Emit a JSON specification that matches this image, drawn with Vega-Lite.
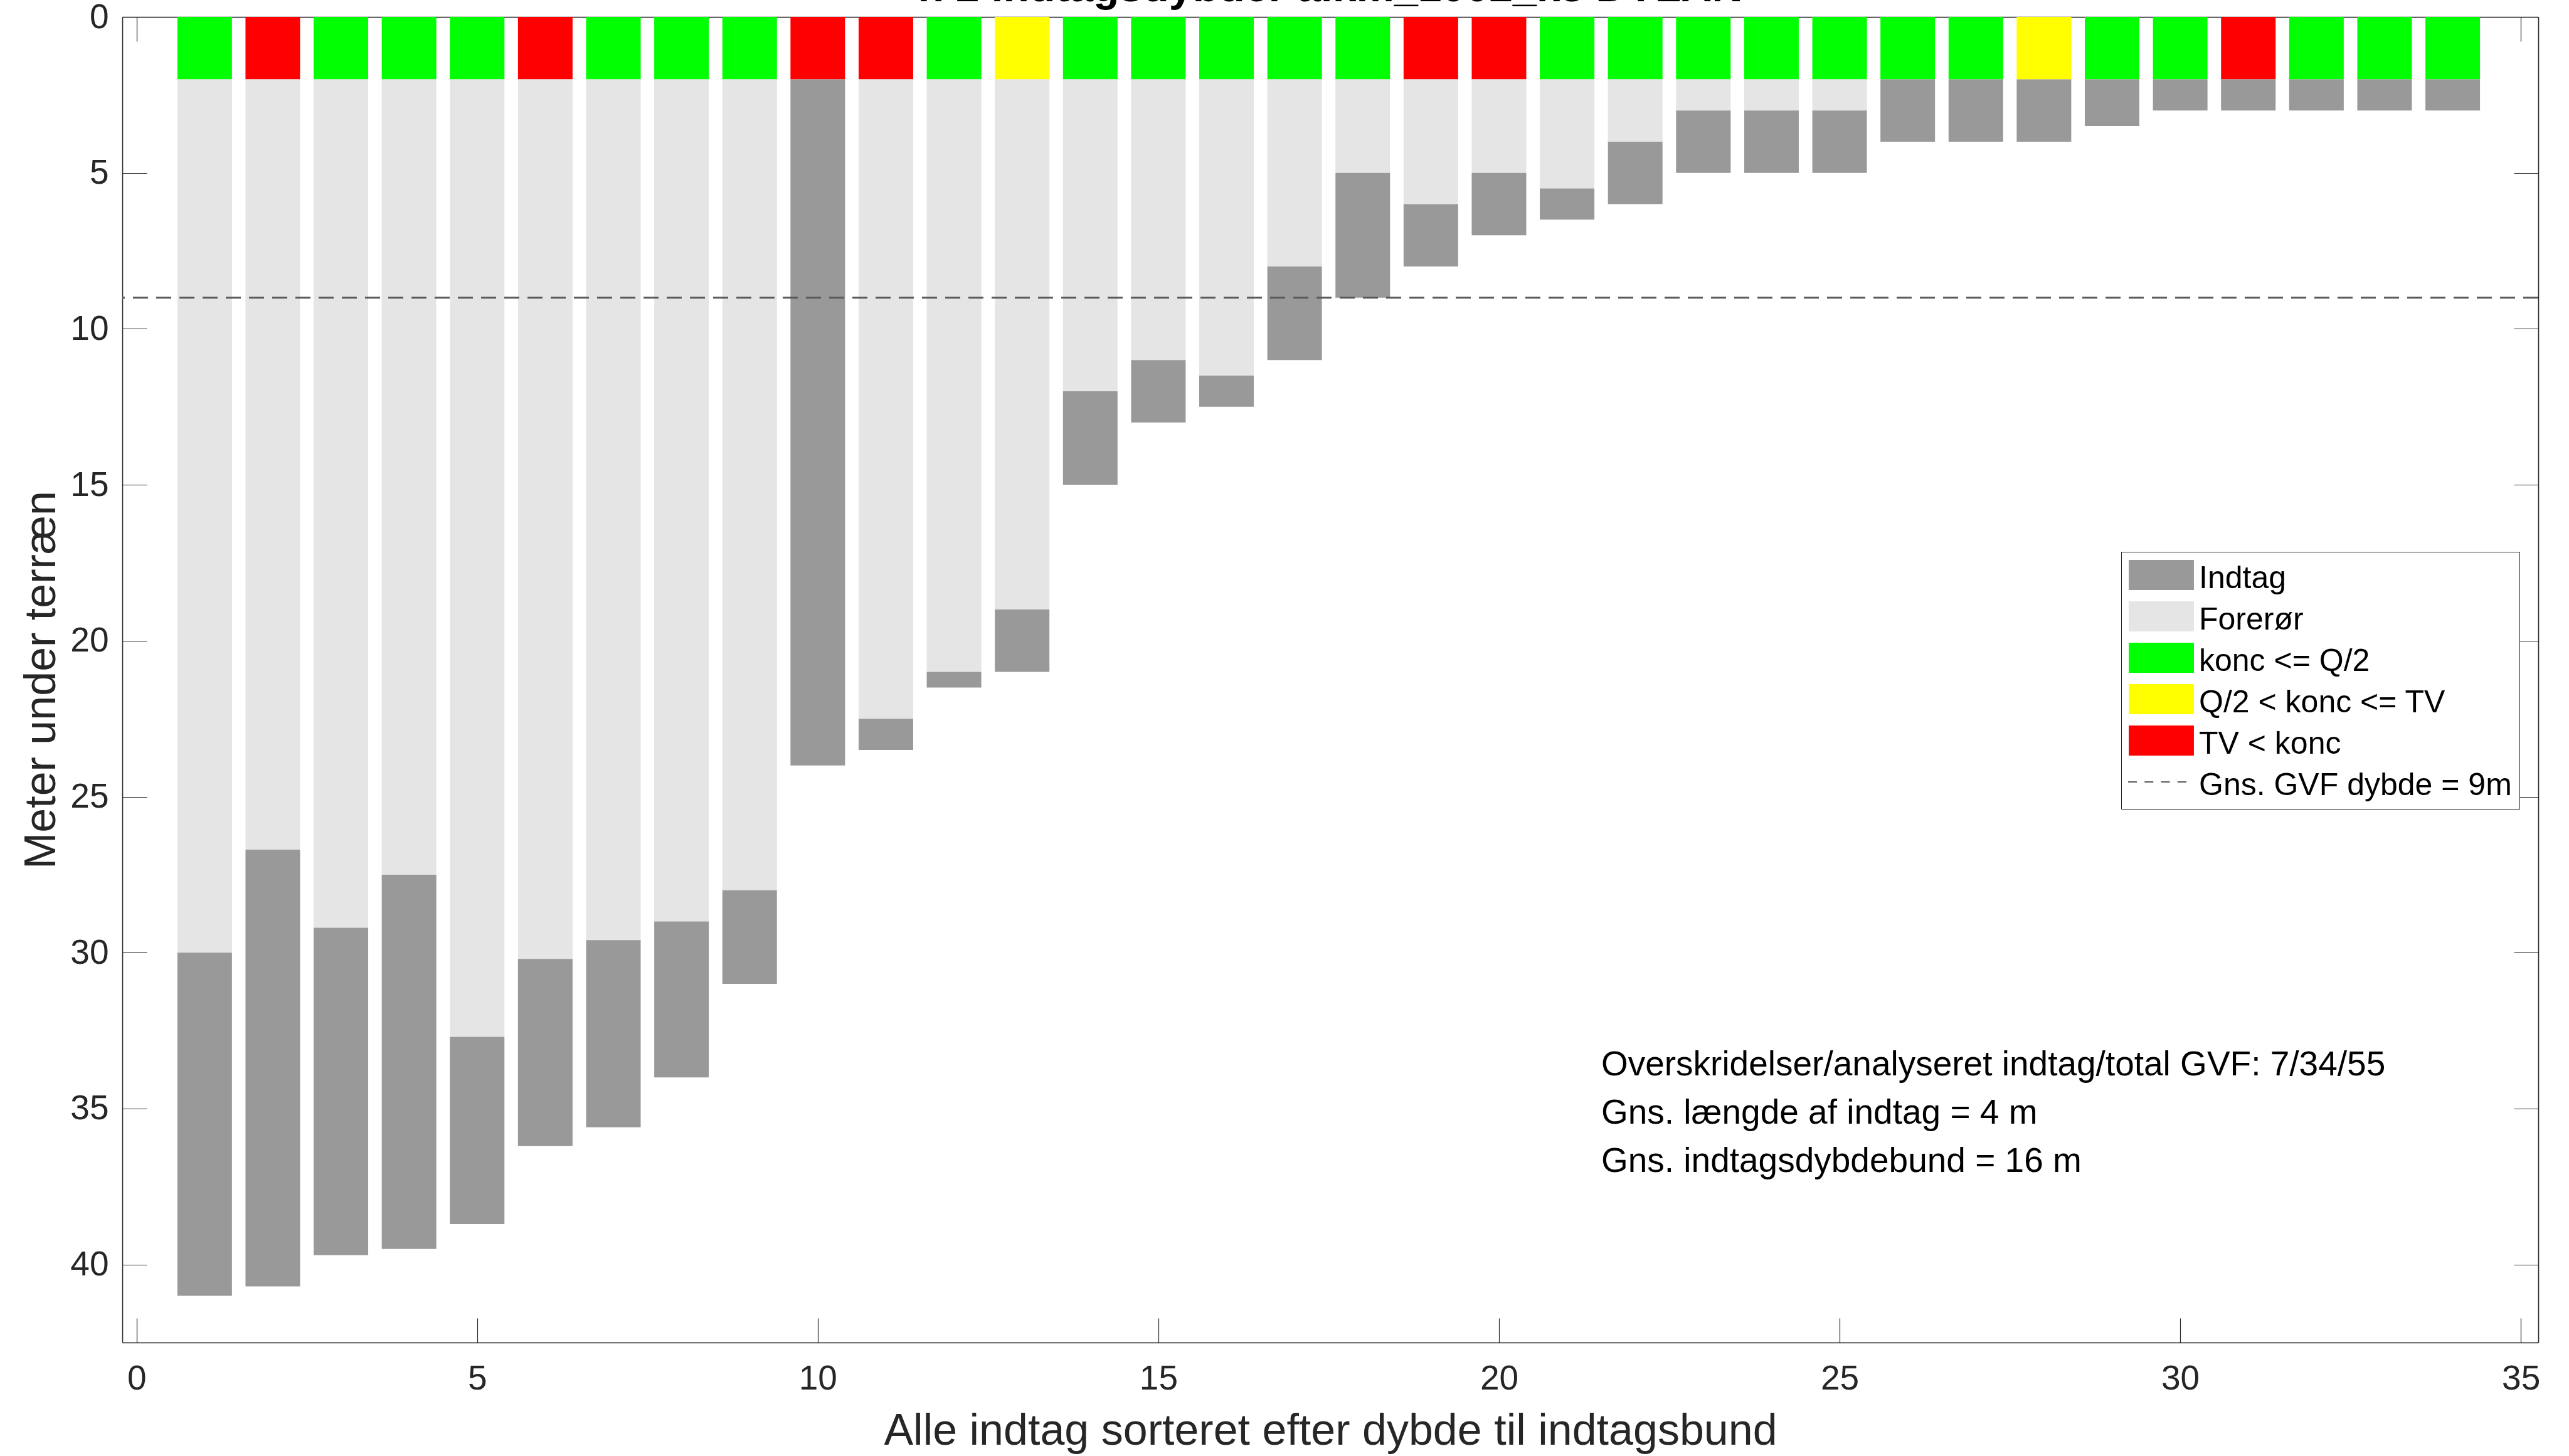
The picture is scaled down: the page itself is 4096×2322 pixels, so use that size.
{
  "$schema": "https://vega.github.io/schema/vega-lite/v6.json",
  "width": 3852,
  "height": 2114,
  "autosize": {"type": "none"},
  "padding": {"left": 195, "top": 27, "right": 49, "bottom": 181},
  "background": "white",
  "config": {"view": {"stroke": null}, "font": "Liberation Sans"},
  "title": {
    "text": "n 2 indtagsdybder alkm_1002_k8 DYLAN",
    "font": "Liberation Sans",
    "fontWeight": "bold",
    "fontSize": 68,
    "color": "#000000",
    "anchor": "middle",
    "frame": "group",
    "baseline": "alphabetic",
    "offset": -70
  },
  "datasets": {
    "segments": [
      {"n": 1, "from": 0, "to": 2, "cat": "konc <= Q/2"}, {"n": 1, "from": 2, "to": 30, "cat": "Forerør"}, {"n": 1, "from": 30, "to": 41, "cat": "Indtag"},
      {"n": 2, "from": 0, "to": 2, "cat": "TV < konc"}, {"n": 2, "from": 2, "to": 26.7, "cat": "Forerør"}, {"n": 2, "from": 26.7, "to": 40.7, "cat": "Indtag"},
      {"n": 3, "from": 0, "to": 2, "cat": "konc <= Q/2"}, {"n": 3, "from": 2, "to": 29.2, "cat": "Forerør"}, {"n": 3, "from": 29.2, "to": 39.7, "cat": "Indtag"},
      {"n": 4, "from": 0, "to": 2, "cat": "konc <= Q/2"}, {"n": 4, "from": 2, "to": 27.5, "cat": "Forerør"}, {"n": 4, "from": 27.5, "to": 39.5, "cat": "Indtag"},
      {"n": 5, "from": 0, "to": 2, "cat": "konc <= Q/2"}, {"n": 5, "from": 2, "to": 32.7, "cat": "Forerør"}, {"n": 5, "from": 32.7, "to": 38.7, "cat": "Indtag"},
      {"n": 6, "from": 0, "to": 2, "cat": "TV < konc"}, {"n": 6, "from": 2, "to": 30.2, "cat": "Forerør"}, {"n": 6, "from": 30.2, "to": 36.2, "cat": "Indtag"},
      {"n": 7, "from": 0, "to": 2, "cat": "konc <= Q/2"}, {"n": 7, "from": 2, "to": 29.6, "cat": "Forerør"}, {"n": 7, "from": 29.6, "to": 35.6, "cat": "Indtag"},
      {"n": 8, "from": 0, "to": 2, "cat": "konc <= Q/2"}, {"n": 8, "from": 2, "to": 29, "cat": "Forerør"}, {"n": 8, "from": 29, "to": 34, "cat": "Indtag"},
      {"n": 9, "from": 0, "to": 2, "cat": "konc <= Q/2"}, {"n": 9, "from": 2, "to": 28, "cat": "Forerør"}, {"n": 9, "from": 28, "to": 31, "cat": "Indtag"},
      {"n": 10, "from": 0, "to": 2, "cat": "TV < konc"}, {"n": 10, "from": 2, "to": 24, "cat": "Indtag"},
      {"n": 11, "from": 0, "to": 2, "cat": "TV < konc"}, {"n": 11, "from": 2, "to": 22.5, "cat": "Forerør"}, {"n": 11, "from": 22.5, "to": 23.5, "cat": "Indtag"},
      {"n": 12, "from": 0, "to": 2, "cat": "konc <= Q/2"}, {"n": 12, "from": 2, "to": 21, "cat": "Forerør"}, {"n": 12, "from": 21, "to": 21.5, "cat": "Indtag"},
      {"n": 13, "from": 0, "to": 2, "cat": "Q/2 < konc <= TV"}, {"n": 13, "from": 2, "to": 19, "cat": "Forerør"}, {"n": 13, "from": 19, "to": 21, "cat": "Indtag"},
      {"n": 14, "from": 0, "to": 2, "cat": "konc <= Q/2"}, {"n": 14, "from": 2, "to": 12, "cat": "Forerør"}, {"n": 14, "from": 12, "to": 15, "cat": "Indtag"},
      {"n": 15, "from": 0, "to": 2, "cat": "konc <= Q/2"}, {"n": 15, "from": 2, "to": 11, "cat": "Forerør"}, {"n": 15, "from": 11, "to": 13, "cat": "Indtag"},
      {"n": 16, "from": 0, "to": 2, "cat": "konc <= Q/2"}, {"n": 16, "from": 2, "to": 11.5, "cat": "Forerør"}, {"n": 16, "from": 11.5, "to": 12.5, "cat": "Indtag"},
      {"n": 17, "from": 0, "to": 2, "cat": "konc <= Q/2"}, {"n": 17, "from": 2, "to": 8, "cat": "Forerør"}, {"n": 17, "from": 8, "to": 11, "cat": "Indtag"},
      {"n": 18, "from": 0, "to": 2, "cat": "konc <= Q/2"}, {"n": 18, "from": 2, "to": 5, "cat": "Forerør"}, {"n": 18, "from": 5, "to": 9, "cat": "Indtag"},
      {"n": 19, "from": 0, "to": 2, "cat": "TV < konc"}, {"n": 19, "from": 2, "to": 6, "cat": "Forerør"}, {"n": 19, "from": 6, "to": 8, "cat": "Indtag"},
      {"n": 20, "from": 0, "to": 2, "cat": "TV < konc"}, {"n": 20, "from": 2, "to": 5, "cat": "Forerør"}, {"n": 20, "from": 5, "to": 7, "cat": "Indtag"},
      {"n": 21, "from": 0, "to": 2, "cat": "konc <= Q/2"}, {"n": 21, "from": 2, "to": 5.5, "cat": "Forerør"}, {"n": 21, "from": 5.5, "to": 6.5, "cat": "Indtag"},
      {"n": 22, "from": 0, "to": 2, "cat": "konc <= Q/2"}, {"n": 22, "from": 2, "to": 4, "cat": "Forerør"}, {"n": 22, "from": 4, "to": 6, "cat": "Indtag"},
      {"n": 23, "from": 0, "to": 2, "cat": "konc <= Q/2"}, {"n": 23, "from": 2, "to": 3, "cat": "Forerør"}, {"n": 23, "from": 3, "to": 5, "cat": "Indtag"},
      {"n": 24, "from": 0, "to": 2, "cat": "konc <= Q/2"}, {"n": 24, "from": 2, "to": 3, "cat": "Forerør"}, {"n": 24, "from": 3, "to": 5, "cat": "Indtag"},
      {"n": 25, "from": 0, "to": 2, "cat": "konc <= Q/2"}, {"n": 25, "from": 2, "to": 3, "cat": "Forerør"}, {"n": 25, "from": 3, "to": 5, "cat": "Indtag"},
      {"n": 26, "from": 0, "to": 2, "cat": "konc <= Q/2"}, {"n": 26, "from": 2, "to": 4, "cat": "Indtag"},
      {"n": 27, "from": 0, "to": 2, "cat": "konc <= Q/2"}, {"n": 27, "from": 2, "to": 4, "cat": "Indtag"},
      {"n": 28, "from": 0, "to": 2, "cat": "Q/2 < konc <= TV"}, {"n": 28, "from": 2, "to": 4, "cat": "Indtag"},
      {"n": 29, "from": 0, "to": 2, "cat": "konc <= Q/2"}, {"n": 29, "from": 2, "to": 3.5, "cat": "Indtag"},
      {"n": 30, "from": 0, "to": 2, "cat": "konc <= Q/2"}, {"n": 30, "from": 2, "to": 3, "cat": "Indtag"},
      {"n": 31, "from": 0, "to": 2, "cat": "TV < konc"}, {"n": 31, "from": 2, "to": 3, "cat": "Indtag"},
      {"n": 32, "from": 0, "to": 2, "cat": "konc <= Q/2"}, {"n": 32, "from": 2, "to": 3, "cat": "Indtag"},
      {"n": 33, "from": 0, "to": 2, "cat": "konc <= Q/2"}, {"n": 33, "from": 2, "to": 3, "cat": "Indtag"},
      {"n": 34, "from": 0, "to": 2, "cat": "konc <= Q/2"}, {"n": 34, "from": 2, "to": 3, "cat": "Indtag"}
    ],
    "mean": [{"depth": 9, "cat": "Gns. GVF dybde = 9m"}],
    "note": [{"x": 21.5, "y": 33.94, "text": "Overskridelser/analyseret indtag/total GVF: 7/34/55\nGns. længde af indtag = 4 m\nGns. indtagsdybdebund = 16 m"}]
  },
  "layer": [
    {
      "data": {"name": "segments"},
      "mark": {"type": "bar", "width": 87, "strokeWidth": 0, "cornerRadius": 0},
      "encoding": {
        "x": {
          "field": "n", "type": "quantitative",
          "scale": {"domain": [-0.163, 35.21], "nice": false, "zero": false},
          "axis": {
            "orient": "bottom", "values": [0, 5, 10, 15, 20, 25, 30, 35],
            "grid": false, "tickSize": -39, "tickWidth": 1.2, "tickColor": "#262626",
            "domainColor": "#262626", "domainWidth": 1.6,
            "labelFont": "Liberation Sans", "labelFontSize": 55, "labelColor": "#262626",
            "labelPadding": 70, "labelFlush": false, "labelOverlap": false, "labelBound": false,
            "title": "Alle indtag sorteret efter dybde til indtagsbund",
            "titleFont": "Liberation Sans", "titleFontSize": 70, "titleFontWeight": "normal", "titleColor": "#262626",
            "titleX": 1926, "titleY": 162, "titleAlign": "center", "titleBaseline": "alphabetic"
          }
        },
        "y": {
          "field": "from", "type": "quantitative",
          "scale": {"domain": [0, 42.5], "nice": false, "zero": false, "reverse": true},
          "axis": {
            "orient": "left", "values": [0, 5, 10, 15, 20, 25, 30, 35, 40],
            "grid": false, "tickSize": -39, "tickWidth": 1.2, "tickColor": "#262626",
            "domainColor": "#262626", "domainWidth": 1.6,
            "labelFont": "Liberation Sans", "labelFontSize": 55, "labelColor": "#262626",
            "labelPadding": 61, "labelFlush": false, "labelOverlap": false, "labelBound": false,
            "title": "Meter under terræn",
            "titleFont": "Liberation Sans", "titleFontSize": 70, "titleFontWeight": "normal", "titleColor": "#262626",
            "titleX": -108, "titleY": 1057, "titleAngle": -90, "titleAlign": "center", "titleBaseline": "alphabetic"
          }
        },
        "y2": {"field": "to"},
        "color": {
          "field": "cat", "type": "nominal",
          "scale": {
            "domain": ["Indtag", "Forerør", "konc <= Q/2", "Q/2 < konc <= TV", "TV < konc", "Gns. GVF dybde = 9m"],
            "range": ["#999999", "#e5e5e5", "#00ff00", "#ffff00", "#ff0000", "#595959"]
          },
          "legend": {
            "orient": "none", "legendX": 3187, "legendY": 853, "direction": "vertical",
            "title": null, "padding": 12, "fillColor": "white", "strokeColor": "#262626", "cornerRadius": 0,
            "labelFont": "Liberation Sans", "labelFontSize": 50, "labelColor": "#000000", "labelLimit": 0,
            "labelOffset": 62, "symbolSize": 2304, "symbolStrokeWidth": 0, "rowPadding": 10,
            "encode": {
              "symbols": {"update": {
                "shape": {"signal": "datum.value === 'Gns. GVF dybde = 9m' ? 'M-1.08,0H-0.5M0.0125,0H0.596M1.108,0H1.692M2.204,0H2.788' : 'M-1.04,-1H3.29V1H-1.04Z'"},
                "fill": {"signal": "datum.value === 'Gns. GVF dybde = 9m' ? 'transparent' : scale('color', datum.value)"},
                "stroke": {"signal": "datum.value === 'Gns. GVF dybde = 9m' ? '#404040' : 'transparent'"},
                "strokeWidth": {"signal": "datum.value === 'Gns. GVF dybde = 9m' ? 2 : 0"},
                "opacity": {"signal": "1"}
              }},
              "labels": {"update": {"dy": {"signal": "6"}}}
            }
          }
        }
      }
    },
    {
      "data": {"name": "mean"},
      "mark": {"type": "rule", "strokeDash": [24, 13], "strokeWidth": 3},
      "encoding": {
        "y": {"field": "depth", "type": "quantitative", "scale": {"domain": [0, 42.5], "nice": false, "zero": false, "reverse": true}, "axis": null},
        "color": {
          "field": "cat", "type": "nominal",
          "scale": {
            "domain": ["Indtag", "Forerør", "konc <= Q/2", "Q/2 < konc <= TV", "TV < konc", "Gns. GVF dybde = 9m"],
            "range": ["#999999", "#e5e5e5", "#00ff00", "#ffff00", "#ff0000", "#595959"]
          }
        }
      }
    },
    {
      "data": {"name": "note"},
      "mark": {"type": "text", "align": "left", "baseline": "alphabetic", "font": "Liberation Sans", "fontSize": 55, "color": "#000000", "lineBreak": "\n", "lineHeight": 77},
      "encoding": {
        "x": {
          "field": "x", "type": "quantitative",
          "scale": {"domain": [-0.163, 35.21], "nice": false, "zero": false},
          "axis": {
            "orient": "top", "values": [0, 5, 10, 15, 20, 25, 30, 35], "labels": false, "title": null,
            "grid": false, "tickSize": -39, "tickWidth": 1.2, "tickColor": "#262626",
            "domainColor": "#262626", "domainWidth": 1.6
          }
        },
        "y": {
          "field": "y", "type": "quantitative",
          "scale": {"domain": [0, 42.5], "nice": false, "zero": false, "reverse": true},
          "axis": {
            "orient": "right", "values": [0, 5, 10, 15, 20, 25, 30, 35, 40], "labels": false, "title": null,
            "grid": false, "tickSize": -39, "tickWidth": 1.2, "tickColor": "#262626",
            "domainColor": "#262626", "domainWidth": 1.6
          }
        },
        "text": {"field": "text"}
      }
    }
  ],
  "resolve": {"axis": {"x": "independent", "y": "independent"}}
}
